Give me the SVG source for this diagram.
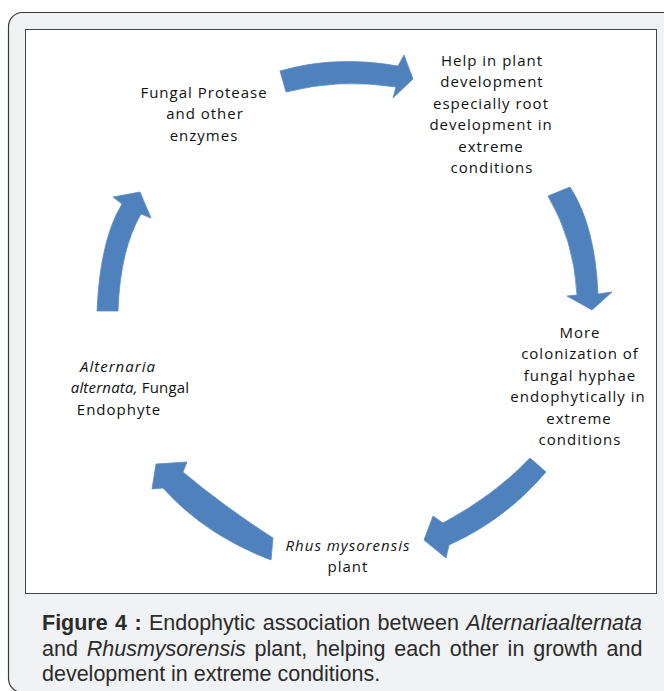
<svg xmlns="http://www.w3.org/2000/svg" width="664" height="691" viewBox="0 0 664 691">
<defs>
<style>
.lbl{font-family:"Open Sans","Liberation Sans",sans-serif;font-size:15px;letter-spacing:1px;fill:#111;text-anchor:middle}
.it{font-style:italic}
.arrow{fill:#4f81bd;stroke:#5b8cc4;stroke-width:0.8;stroke-linejoin:round}
.cap{font-family:"Liberation Sans",Arial,sans-serif;font-size:21.5px;fill:#2b2b2b}
</style>
</defs>
<rect x="8.5" y="12.5" width="720" height="680" rx="14" fill="#f1f2f3" stroke="#3a3a3a" stroke-width="1.2"/>
<rect x="25.5" y="29.5" width="631" height="564" fill="#ffffff" stroke="#454545" stroke-width="1"/>
<g id="connectors">
<path class="arrow" d="M280,71 Q335,55 398,66 L404,55 L413,79 L393,98 L396,87 Q340,78 286,92 Z"/>
<path class="arrow" d="M548,196 L570,187 Q595,225 598,294 L612,292 L592,310 L567,296 L577,295 Q574,240 548,196 Z"/>
<path class="arrow" d="M530,458 L546,472 Q505,520 449,545 L446,558 L424,540 L433,516 L443,523 Q495,495 530,458 Z"/>
<path class="arrow" d="M273,538 L271,560 Q205,535 163,488 L152,489 L156,464 L187,462 L183,472 Q222,505 273,538 Z"/>
<path class="arrow" d="M97,311 L118,311 Q120,250 141,214 L151,218 L140,192 L113,197 L122,204 Q100,240 97,311 Z"/>
</g>
<g id="node-protease">
<text class="lbl" x="204" y="98">Fungal Protease</text>
<text class="lbl" x="205" y="119">and other</text>
<text class="lbl" x="204" y="141">enzymes</text>
</g>
<g id="node-help">
<text class="lbl" x="492" y="66">Help in plant</text>
<text class="lbl" x="492" y="87">development</text>
<text class="lbl" x="491" y="109">especially root</text>
<text class="lbl" x="491" y="130">development in</text>
<text class="lbl" x="491" y="152">extreme</text>
<text class="lbl" x="492" y="173">conditions</text>
</g>
<g id="node-colonization">
<text class="lbl" x="580" y="338">More</text>
<text class="lbl" x="580" y="359">colonization of</text>
<text class="lbl" x="580" y="381">fungal hyphae</text>
<text class="lbl" x="578" y="402">endophytically in</text>
<text class="lbl" x="579" y="424">extreme</text>
<text class="lbl" x="580" y="445">conditions</text>
</g>
<g id="node-rhus">
<text class="lbl it" x="348" y="551">Rhus mysorensis</text>
<text class="lbl" x="348" y="572">plant</text>
</g>
<g id="node-alternaria">
<text class="lbl it" x="118" y="372">Alternaria</text>
<text class="lbl" x="130" y="393" style="letter-spacing:0.2px"><tspan class="it">alternata,</tspan> Fungal</text>
<text class="lbl" x="119" y="415">Endophyte</text>
</g>
<g id="caption">
<text class="cap" x="42" y="630" word-spacing="1.4"><tspan font-weight="bold">Figure 4 :</tspan> Endophytic association between <tspan font-style="italic">Alternariaalternata</tspan></text>
<text class="cap" x="42" y="656" word-spacing="2.9">and <tspan font-style="italic">Rhusmysorensis</tspan> plant, helping each other in growth and</text>
<text class="cap" x="42" y="681">development in extreme conditions.</text>
</g>
</svg>
